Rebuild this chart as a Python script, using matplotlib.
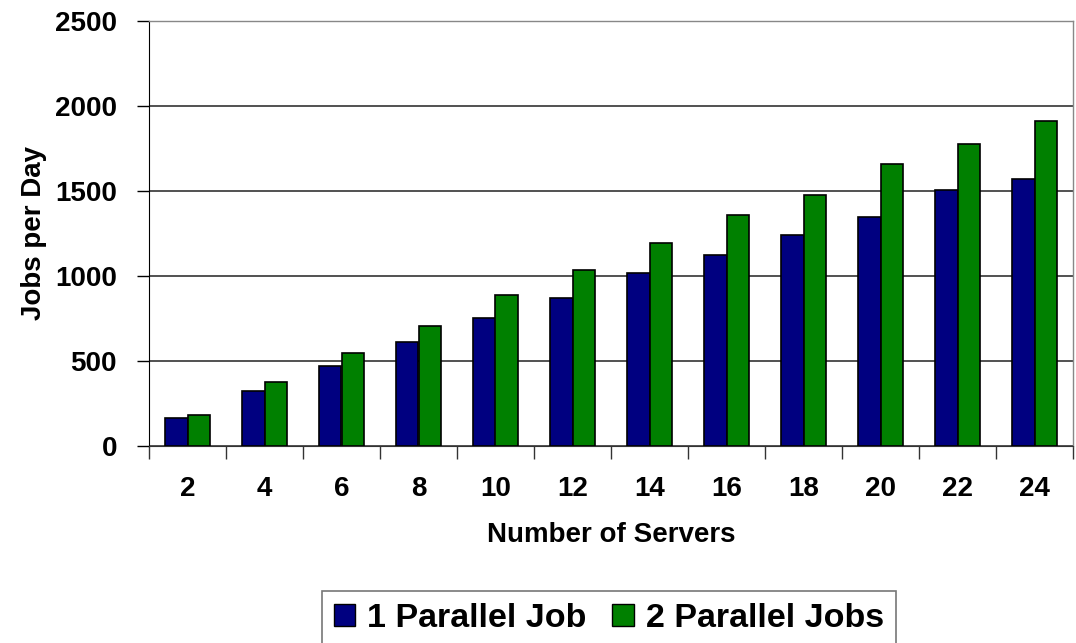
import numpy as np
import matplotlib
matplotlib.use('Agg')
import matplotlib.pyplot as plt
from matplotlib.patches import Patch

plt.rcParams['font.family'] = ['Liberation Sans', 'DejaVu Sans']
plt.rcParams['font.weight'] = 'bold'

servers = ['2', '4', '6', '8', '10', '12', '14', '16', '18', '20', '22', '24']
one_job = [160, 320, 470, 609, 748, 866, 1015, 1122, 1238, 1346, 1507, 1568]
two_jobs = [181, 373, 542, 705, 887, 1034, 1195, 1358, 1475, 1656, 1773, 1909]
y_ticks = [0, 500, 1000, 1500, 2000, 2500]

fig = plt.figure(figsize=(10.76, 6.43), dpi=100)
ax = fig.add_axes([149/1076, 1-445.5/643, (1073-149)/1076, (445.5-21)/643])

x = np.arange(len(servers))
w = 0.29
ax.bar(x - w/2, one_job, w, color='#000080', edgecolor='black', linewidth=1.2, zorder=3)
ax.bar(x + w/2, two_jobs, w, color='#008000', edgecolor='black', linewidth=1.2, zorder=3)

ax.set_xlim(-0.5, len(servers) - 0.5)
ax.set_ylim(0, 2500)
ax.set_yticks(y_ticks)
ax.set_yticklabels([str(v) for v in y_ticks], fontsize=20, fontweight='bold')
ax.yaxis.grid(True, color='#222222', linewidth=1.1, zorder=0)

# category ticks sit between the groups, labels at the centres
ax.set_xticks(x)
ax.set_xticklabels(servers, fontsize=20, fontweight='bold')
ax.set_xticks(np.arange(len(servers) + 1) - 0.5, minor=True)
ax.tick_params(axis='x', which='major', length=0, pad=22)
ax.tick_params(axis='x', which='minor', length=9, width=1, color='#333333', direction='out')
ax.tick_params(axis='y', length=9, width=1, direction='out', pad=14)

for s in ['top', 'right']:
    ax.spines[s].set_color('#888888')
    ax.spines[s].set_linewidth(1)
ax.spines['left'].set_color('black')
ax.spines['bottom'].set_color('#333333')

ax.set_xlabel('Number of Servers', fontsize=20, fontweight='bold', labelpad=14)
ax.set_ylabel('Jobs per Day', fontsize=20, fontweight='bold', labelpad=6)

handles = [Patch(facecolor='#000080', edgecolor='black', label='1 Parallel Job'),
           Patch(facecolor='#008000', edgecolor='black', label='2 Parallel Jobs')]
leg = fig.legend(handles=handles, loc='upper left', bbox_to_anchor=(322/1076, 1-591/643),
                 ncol=2, prop={'weight': 'bold', 'size': 24.5}, frameon=True, fancybox=False,
                 handlelength=0.63, handleheight=0.63, handletextpad=0.35, columnspacing=0.75,
                 borderpad=0.35, borderaxespad=0)
leg.get_frame().set_edgecolor('#555555')
leg.get_frame().set_linewidth(1.2)

fig.savefig('out.png', dpi=100)
